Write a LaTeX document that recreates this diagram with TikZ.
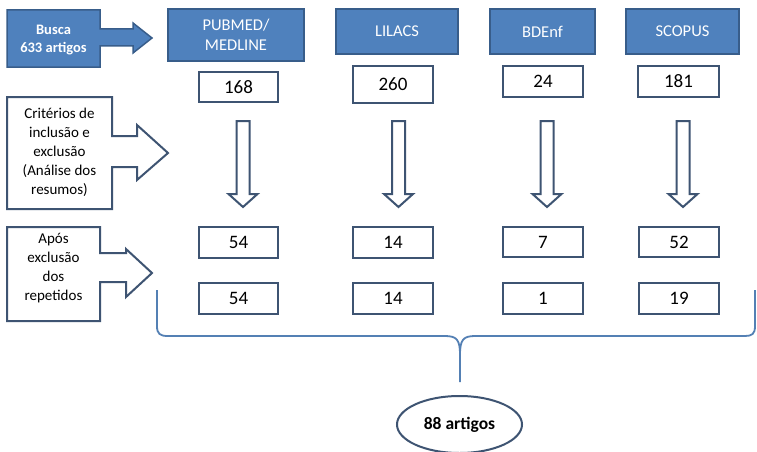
\documentclass[tikz,border=0pt]{standalone}
\usepackage{fontspec}
\setmainfont{Carlito}
\usetikzlibrary{shapes.geometric}
\definecolor{bfill}{RGB}{79,129,189}
\definecolor{bline}{RGB}{56,93,138}
\definecolor{kline}{RGB}{62,84,114}
\definecolor{bracecol}{RGB}{84,128,180}
\begin{document}
\begin{tikzpicture}[x=1pt,y=-1pt,
 topbox/.style={draw=bline, fill=bfill, line width=1.5pt, text=white, align=center, inner sep=0pt, font=\fontsize{16.5}{20}\selectfont},
 numbox/.style={draw=kline, fill=white, line width=2pt, inner sep=0pt, font=\fontsize{19}{22}\selectfont},
 callout/.style={draw=kline, fill=white, line width=2pt, line join=miter},
 bluecallout/.style={draw=bline, fill=bfill, line width=1.5pt, line join=miter},
 labeltext/.style={align=center, inner sep=0pt, font=\fontsize{15}{19}\selectfont},
 blockarrow/.style={draw=kline, fill=white, line width=2pt, line join=miter},
 bracestyle/.style={draw=bracecol, line width=1.8pt},
 downarr/.pic={\path[blockarrow] (-6.5,0) -- (-6.5,73) -- (-14.5,73) -- (0,86) -- (14.5,73) -- (6.5,73) -- (6.5,0) -- cycle;}]
\useasboundingbox (0,0) rectangle (757,452);
\fill[white] (0,0) rectangle (757,452);

% search callout
\path[bluecallout] (7,10) -- (100,10) -- (100,29) -- (133,29) -- (133,23) -- (152,38) -- (133,53) -- (133,46) -- (100,46) -- (100,67) -- (7,67) -- cycle;
\node[text=white, align=center, inner sep=0pt, font=\bfseries\fontsize{14.5}{17.5}\selectfont] (busca) at (53.5,40) {Busca\\633 artigos};

% databases
\node[topbox, minimum width=136pt, minimum height=52pt] (pubmed) at (236,35) {PUBMED/\\MEDLINE};
\node[topbox, minimum width=122pt, minimum height=45pt] (lilacs) at (397,31.5) {LILACS};
\node[topbox, minimum width=105pt, minimum height=45pt] (bdenf) at (542.5,31.5) {BDEnf};
\node[topbox, minimum width=113pt, minimum height=45pt] (scopus) at (682.5,31.5) {SCOPUS};

% first counts
\node[numbox, minimum width=79pt, minimum height=30pt] (p1) at (238.5,87) {168};
\node[numbox, minimum width=80pt, minimum height=37pt] (l1) at (393,84.5) {260};
\node[numbox, minimum width=80pt, minimum height=31pt] (b1) at (543,81.5) {24};
\node[numbox, minimum width=81pt, minimum height=31pt] (s1) at (678.5,81.5) {181};

% criteria callout
\path[callout] (7,97) -- (112,97) -- (112,136) -- (137,136) -- (137,125) -- (168,153) -- (137,180) -- (137,167) -- (112,167) -- (112,209) -- (7,209) -- cycle;
\node[labeltext] (crit) at (59.5,152) {Critérios de\\inclusão e\\exclusão\\(Análise dos\\resumos)};

% down arrows
\coordinate (a1) at (243,121);
\coordinate (a2) at (398.5,121);
\coordinate (a3) at (547,121);
\coordinate (a4) at (683,121);
\pic at (a1) {downarr};
\pic at (a2) {downarr};
\pic at (a3) {downarr};
\pic at (a4) {downarr};

% second counts
\node[numbox, minimum width=79pt, minimum height=31pt] (p2) at (238.5,242.5) {54};
\node[numbox, minimum width=80pt, minimum height=31pt] (l2) at (393,242.5) {14};
\node[numbox, minimum width=80pt, minimum height=30pt] (b2) at (543,242) {7};
\node[numbox, minimum width=80pt, minimum height=30pt] (s2) at (679,242) {52};

% after duplicates callout
\path[callout] (7,227) -- (100,227) -- (100,253) -- (126,253) -- (126,249) -- (152,273) -- (126,297) -- (126,282) -- (100,282) -- (100,321) -- (7,321) -- cycle;
\node[labeltext] (apos) at (53.5,268) {Após\\exclusão\\dos\\repetidos};

% third counts
\node[numbox, minimum width=79pt, minimum height=31pt] (p3) at (238.5,298.5) {54};
\node[numbox, minimum width=80pt, minimum height=31pt] (l3) at (393,298.5) {14};
\node[numbox, minimum width=80pt, minimum height=31pt] (b3) at (543,298.5) {1};
\node[numbox, minimum width=80pt, minimum height=31pt] (s3) at (679,298.5) {19};

% brace
\coordinate (cusp) at (460,382);
\draw[bracestyle] (157,290) -- (157,326) .. controls (157,334) and (160,336) .. (168,336) -- (445,336) .. controls (457,336) and (460,340) .. (460,355) -- (cusp);
\draw[bracestyle] (460,355) .. controls (460,340) and (463,336) .. (475,336) -- (745,336) .. controls (752,336) and (755,334) .. (755,326) -- (755,290);

% result
\node[draw=kline, line width=2pt, ellipse, fill=white, minimum width=125pt, minimum height=57pt, inner sep=0pt, font=\bfseries\fontsize{17.5}{21}\selectfont] (res) at (459.5,424.5) {88 artigos};
\end{tikzpicture}
\end{document}
